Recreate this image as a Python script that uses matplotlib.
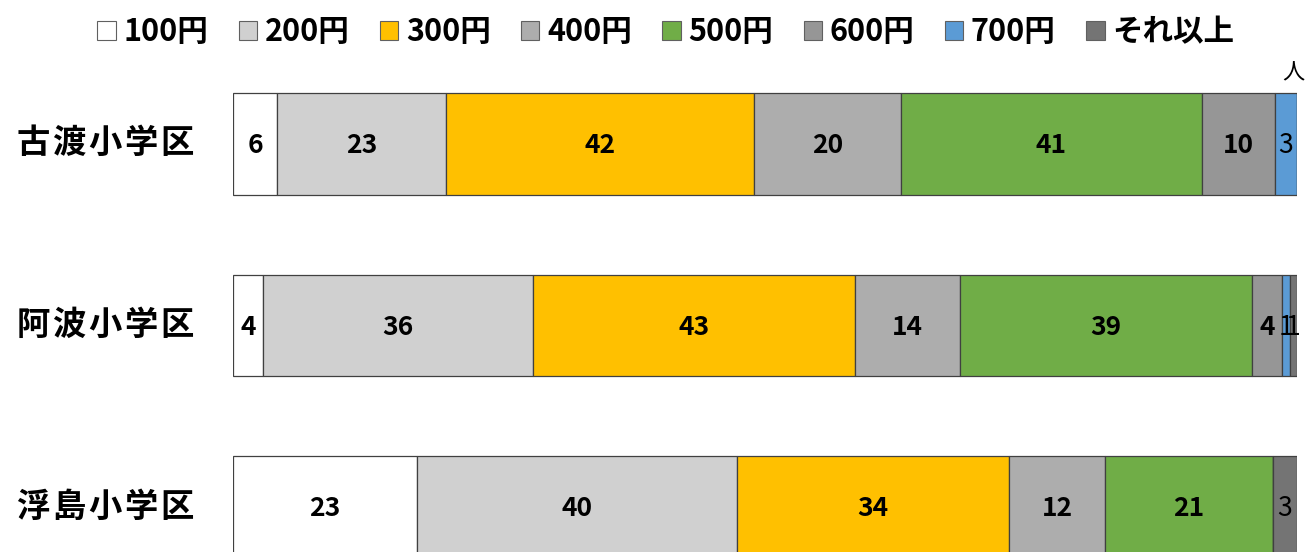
import numpy as np
import matplotlib
matplotlib.use('Agg')
import matplotlib.pyplot as plt
from matplotlib.patches import Patch

plt.rcParams['font.family'] = ['Noto Sans CJK JP', 'DejaVu Sans']

# data (people per price band)
schools = ['古渡小学区', '阿波小学区', '浮島小学区']
bands = ['100円', '200円', '300円', '400円', '500円', '600円', '700円', 'それ以上']
kowata = [6, 23, 42, 20, 41, 10, 3, 0]
aba = [4, 36, 43, 14, 39, 4, 1, 1]
ukishima = [23, 40, 34, 12, 21, 0, 0, 3]

colors = ['#FFFFFF', '#D0D0D0', '#FFC000', '#ADADAD', '#70AD47', '#969696', '#5B9BD5', '#747474']
bold_labels = [True, True, True, True, True, True, False, False]

values = np.array([kowata, aba, ukishima], dtype=float)
shares = values / values.sum(axis=1, keepdims=True)

fig = plt.figure(figsize=(13.08, 5.52), dpi=100)
ax = fig.add_axes([233/1308, 1 - 598/552, (1297 - 233)/1308, 545/552])

ypos = np.arange(len(schools))
left = np.zeros(len(schools))
for j, band in enumerate(bands):
    ax.barh(ypos, shares[:, j], left=left, height=0.56, color=colors[j],
            edgecolor='#404040', linewidth=0.9, label=band)
    for i in range(len(schools)):
        if values[i, j] > 0:
            ax.text(left[i] + shares[i, j] / 2, ypos[i] + 0.01, f'{int(values[i, j])}',
                    ha='center', va='center', fontsize=19,
                    fontweight='bold' if bold_labels[j] else 'normal', color='black')
    left += shares[:, j]

ax.set_xlim(0, 1)
ax.set_ylim(2.5, -0.5)
ax.set_yticks(ypos)
ax.set_yticklabels([])
ax.tick_params(axis='y', length=0)
ax.set_xticks([])
for s in ax.spines.values():
    s.set_visible(False)

# category names with wide letter spacing, like the original
for i, name in enumerate(schools):
    for k, ch in enumerate(name):
        ax.annotate(ch, xy=(0, ypos[i]), xycoords='data',
                    xytext=(-144 + k * 26, 0), textcoords='offset points',
                    ha='center', va='center', fontsize=24, fontweight='bold')

ax.text(0.997, -0.39, '人', ha='center', va='center', fontsize=16)

handles = [Patch(facecolor=c, edgecolor='#606060', linewidth=0.8) for c in colors]
fig.legend(handles, bands, loc='center', bbox_to_anchor=(0.509, 0.942), ncol=8,
           frameon=False, handlelength=0.6, handleheight=0.6,
           handletextpad=0.25, columnspacing=1.0,
           prop={'weight': 'bold', 'size': 22})

fig.savefig('out.png', dpi=100)
